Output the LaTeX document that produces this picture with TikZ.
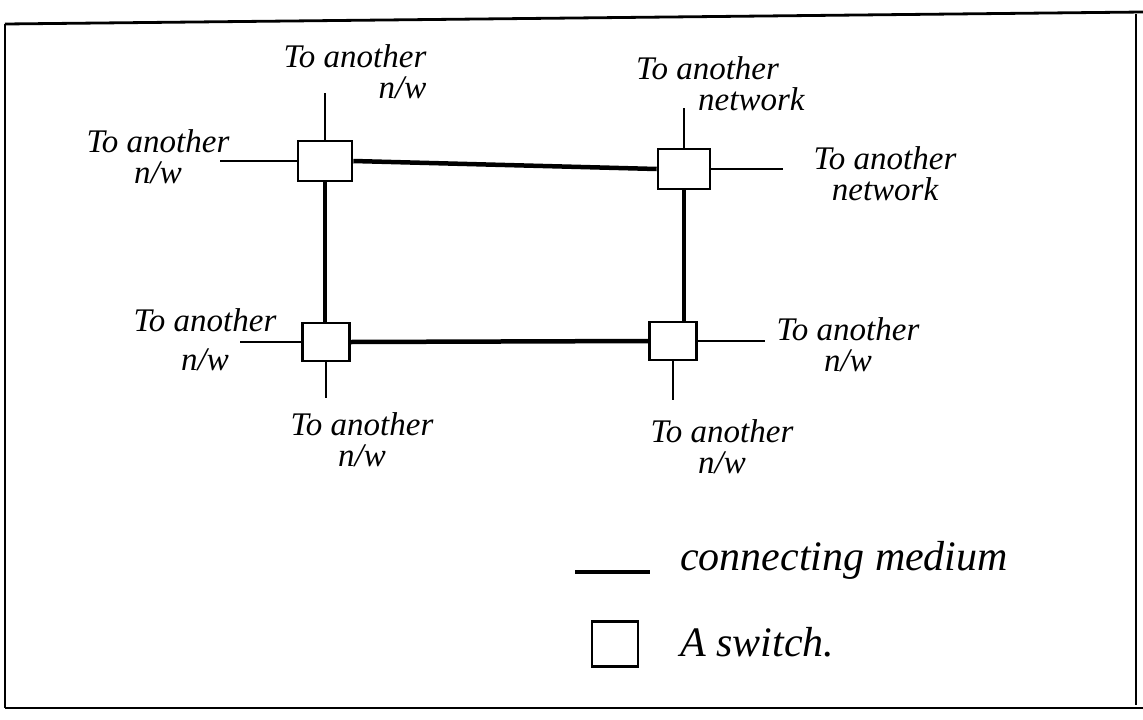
\documentclass[tikz,border=0pt]{standalone}
\usepackage{fontspec}
\setmainfont{Liberation Serif}
\begin{document}
\begin{tikzpicture}[x=1pt,y=-1pt,
  switchbox/.style={draw,line width=2.6pt,minimum width=#1,minimum height=40pt,inner sep=0pt},
  medium/.style={line width=4.5pt},
  stub/.style={line width=2.6pt},
  frame/.style={line width=2.8pt},
  lbl/.style={font=\itshape\fontsize{33}{31}\selectfont,align=center,inner sep=0pt},
  legendtext/.style={font=\itshape\fontsize{42}{44}\selectfont,inner sep=0pt,anchor=west}]
\useasboundingbox (0,0) rectangle (1143,720);
% frame
\coordinate (f1) at (5,24);
\coordinate (f2) at (1143,12);
\coordinate (f3) at (1136,14);
\coordinate (f4) at (1136,705);
\coordinate (f5) at (5,708);
\coordinate (f6) at (1143,708);
\draw[frame] (f1) -- (f2);
\draw[frame] (f1) -- (f5);
\draw[frame] (f3) -- (f4);
\draw[frame] (f5) -- (f6);
% switches
\node[switchbox=54pt] (tl) at (325,161) {};
\node[switchbox=52pt] (tr) at (684,169) {};
\node[switchbox=47pt,minimum height=38pt] (bl) at (326,342) {};
\node[switchbox=47pt,minimum height=38pt] (br) at (673,341) {};
% connecting medium
\draw[medium] (tl.east) -- (tr.west);
\draw[medium] (bl.east) -- (br.west);
\draw[medium] (tl.south) -- (tl.south |- bl.north);
\draw[medium] (tr.south) -- (tr.south |- br.north);
% stubs
\coordinate (tlu) at (tl.north |- 0,93);
\coordinate (tll) at (220,161);
\coordinate (tru) at (tr.north |- 0,108);
\coordinate (trr) at (783,169);
\coordinate (bll) at (240,342);
\coordinate (bld) at (bl.south |- 0,398);
\coordinate (brr) at (765,341);
\coordinate (brd) at (br.south |- 0,400);
\draw[stub] (tl.north) -- (tlu);
\draw[stub] (tl.west) -- (tll);
\draw[stub] (tr.north) -- (tru);
\draw[stub] (tr.east) -- (trr);
\draw[stub] (bl.west) -- (bll);
\draw[stub] (bl.south) -- (bld);
\draw[stub] (br.east) -- (brr);
\draw[stub] (br.south) -- (brd);
% labels
\node[lbl,align=right] (ltlu) at (355,72) {To another\\n/w};
\node[lbl] (ltll) at (158,157) {To another\\n/w};
\node[lbl,align=left,anchor=west] (ltru) at (636,84) {To another\\\hspace*{62pt}network};
\node[lbl] (ltrr) at (885,174) {To another\\network};
\node[lbl] (lbll) at (205,340) {To another\\[8pt]n/w};
\node[lbl] (lbld) at (362,440) {To another\\n/w};
\node[lbl] (lbrr) at (848,345) {To another\\n/w};
\node[lbl] (lbrd) at (722,447) {To another\\n/w};
% legend
\coordinate (lg1) at (575,572);
\coordinate (lg2) at (650,572);
\draw[medium] (lg1) -- (lg2);
\node[legendtext] (lgm) at (680,560) {connecting medium};
\node[switchbox=46pt,minimum height=45pt] (lgs) at (615,644) {};
\node[legendtext] (lgsw) at (680,642) {A switch.};
\end{tikzpicture}
\end{document}
